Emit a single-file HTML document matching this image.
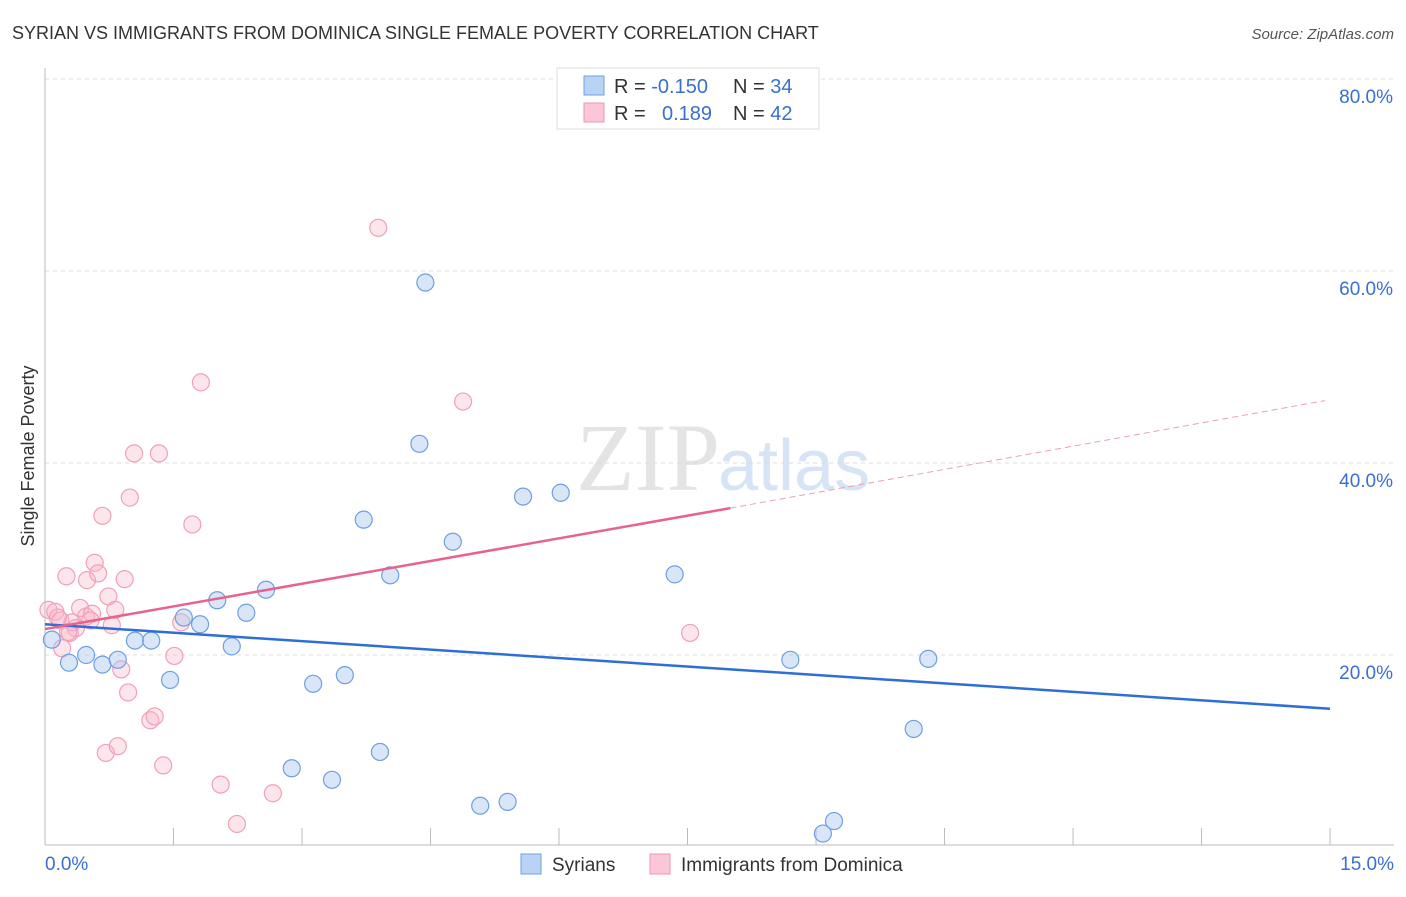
<!DOCTYPE html>
<html><head><meta charset="utf-8"><style>
body{margin:0;background:#fff;font-family:"Liberation Sans",sans-serif}
</style></head><body>
<svg id="chart" width="1406" height="892" xmlns="http://www.w3.org/2000/svg" font-family="Liberation Sans, sans-serif">
<text x="12" y="39" font-size="18" fill="#333">SYRIAN VS IMMIGRANTS FROM DOMINICA SINGLE FEMALE POVERTY CORRELATION CHART</text>
<text x="1394" y="39" font-size="15" fill="#555" text-anchor="end" font-style="italic">Source: ZipAtlas.com</text>
<text x="720" y="490" font-size="96" text-anchor="end" fill="#e4e4e4" font-family="Liberation Serif, serif">ZIP</text>
<text x="718" y="490" font-size="72" fill="#d6e4f5">atlas</text>
<text transform="translate(34,456) rotate(-90)" font-size="18" fill="#333" text-anchor="middle">Single Female Poverty</text>
<g id="grid"></g><g id="marks"></g>
<g>
<rect x="557" y="68" width="262" height="61" fill="#fff" stroke="#ddd"/>
<rect x="584" y="76" width="20" height="19" fill="#b9d3f5" stroke="#6f9fe0"/>
<rect x="584" y="103" width="20" height="19" fill="#fbc7d6" stroke="#ee94b0"/>
<text x="614" y="93" font-size="20" fill="#333">R = <tspan fill="#3a6fd0">-0.150</tspan><tspan x="733">N = </tspan><tspan fill="#3a6fd0">34</tspan></text>
<text x="614" y="120" font-size="20" fill="#333">R = <tspan x="662" fill="#3a6fd0">0.189</tspan><tspan x="733">N = </tspan><tspan fill="#3a6fd0">42</tspan></text>
</g>
<g>
<rect x="521" y="854" width="20" height="20" fill="#b9d3f5" stroke="#6f9fe0"/>
<text x="552" y="871" font-size="19" fill="#333">Syrians</text>
<rect x="650" y="854" width="20" height="20" fill="#fbc7d6" stroke="#ee94b0"/>
<text x="681" y="871" font-size="19" fill="#333">Immigrants from Dominica</text>
</g>
</svg>
<script>
const yTicks=[20,40,60,80];
const yTickLabels=["20.0%","40.0%","60.0%","80.0%"];
const xLabels=["0.0%","15.0%"];
const syrX=[0.08,0.28,0.48,0.67,0.85,1.05,1.24,1.46,1.62,1.81,2.01,2.18,2.35,2.58,2.88,3.13,3.35,3.50,3.72,3.91,4.03,4.37,4.44,4.76,5.08,5.40,5.58,6.02,7.35,8.70,9.08,9.21,10.14,10.31];
const syrY=[21.6,19.2,20.0,19.0,19.5,21.5,21.5,17.4,23.9,23.2,25.7,20.9,24.4,26.8,8.2,17.0,7.0,17.9,34.1,9.9,28.3,42.0,58.8,31.8,4.3,4.7,36.5,36.9,28.4,19.5,1.4,2.7,12.3,19.6];
const domX=[0.04,0.12,0.18,0.20,0.25,0.29,0.32,0.36,0.41,0.48,0.49,0.55,0.58,0.62,0.67,0.71,0.74,0.78,0.82,0.85,0.89,0.93,0.97,0.99,1.04,1.23,1.28,1.33,1.38,1.51,1.59,1.72,1.82,2.05,2.24,2.66,3.89,4.88,7.53,0.15,0.27,0.53];
const domY=[24.7,24.5,23.6,20.7,28.2,22.3,23.4,22.8,24.9,24.0,27.8,24.3,29.6,28.5,34.5,9.8,26.1,23.1,24.7,10.5,18.5,27.9,16.1,36.4,41.0,13.2,13.6,41.0,8.5,19.9,23.4,33.6,48.4,6.5,2.4,5.6,64.5,46.4,22.3,23.9,22.4,23.6];
const syrTrend=[[0,23.2],[15,14.4]];
const domTrend=[[0,22.7],[8.0,35.3]];
const domTrendExt=[[8.0,35.3],[14.94,46.5]];
const X=v=>45+v*85.67, Y=v=>847-v*9.6;
const NS="http://www.w3.org/2000/svg";
function mk(t,a,p){const e=document.createElementNS(NS,t);for(const k in a)e.setAttribute(k,a[k]);p.appendChild(e);return e;}
const g=document.getElementById('grid'), m=document.getElementById('marks');
yTicks.forEach((t,i)=>{
 const l=mk('line',{x1:45,x2:1394,y1:Y(t),y2:Y(t),stroke:'#ddd','stroke-dasharray':'4,4'},g);
 
 
 const tx=mk('text',{x:1393,y:Y(t)+24,'font-size':19,fill:'#3a6fd0','text-anchor':'end'},g);
 tx.textContent=yTickLabels[i];
 
 
});
const ax=mk('line',{x1:45,x2:1394,y1:845,y2:845,stroke:'#bbb'},g);


const ay=mk('line',{x1:45,x2:45,y1:68,y2:845,stroke:'#bbb'},g);


for(let i=1;i<=10;i++){const t=mk('line',{x1:X(i*1.5),x2:X(i*1.5),y1:828,y2:845,stroke:'#bbb'},g);
 
 }
[[0,'start',45],[1,'end',1394]].forEach(([i,a,x])=>{const t=mk('text',{x:x,y:870,'font-size':19,fill:'#3a6fd0','text-anchor':a},g);t.textContent=xLabels[i];
 
 });
domX.forEach((v,i)=>{const c=mk('circle',{cx:X(v),cy:Y(domY[i]),r:8.5,fill:'rgba(248,180,200,0.35)',stroke:'#f0a0b8','stroke-width':1.2},m);
 
 });
syrX.forEach((v,i)=>{const c=mk('circle',{cx:X(v),cy:Y(syrY[i]),r:8.5,fill:'rgba(170,200,240,0.45)',stroke:'#6f9fe0','stroke-width':1.2},m);
 
 });
const l1=mk('line',{x1:X(syrTrend[0][0]),y1:Y(syrTrend[0][1]),x2:X(syrTrend[1][0]),y2:Y(syrTrend[1][1]),stroke:'#2e6fd6','stroke-width':2.5},m);


const l2=mk('line',{x1:X(domTrend[0][0]),y1:Y(domTrend[0][1]),x2:X(domTrend[1][0]),y2:Y(domTrend[1][1]),stroke:'#e8628e','stroke-width':2.5},m);


const l3=mk('line',{x1:X(domTrendExt[0][0]),y1:Y(domTrendExt[0][1]),x2:X(domTrendExt[1][0]),y2:Y(domTrendExt[1][1]),stroke:'#e8a0b8','stroke-width':1,'stroke-dasharray':'6,4'},m);


</script>
</body></html>
